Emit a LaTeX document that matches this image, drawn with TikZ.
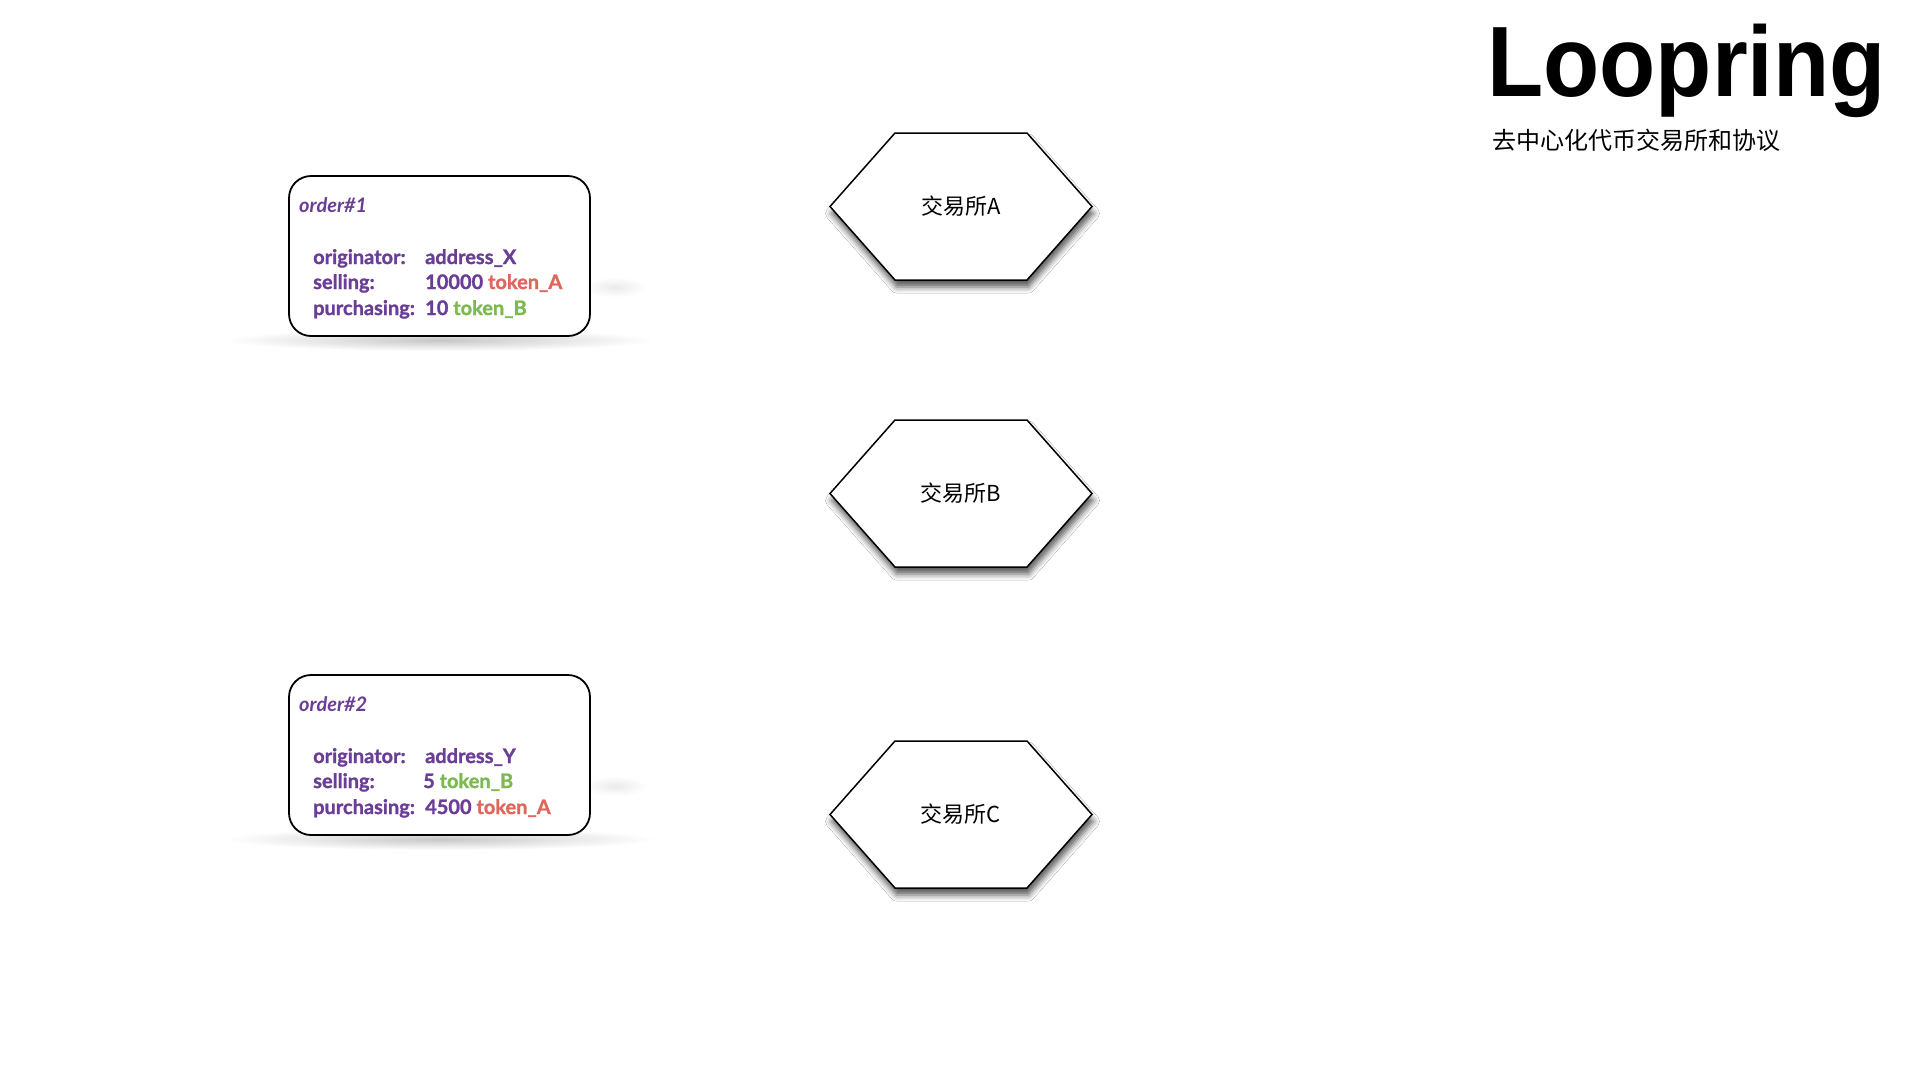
\documentclass[tikz,border=0pt]{standalone}
\usepackage{fontspec}
\usetikzlibrary{shadows.blur}
\newfontfamily\cjkfont{Noto Sans CJK SC}
\newfontfamily\titlefont[FakeStretch=0.92]{Liberation Sans}
\newfontfamily\ordfont[BoldFeatures={FakeBold=1.2}]{Lato}
\definecolor{ordpurple}{RGB}{106,61,150}
\definecolor{tokred}{RGB}{224,102,92}
\definecolor{tokgreen}{RGB}{124,186,80}
\tikzset{
  orderbox/.style={draw, line width=1.8pt, rounded corners=22pt, fill=white, inner sep=0pt, minimum width=301pt, minimum height=160pt},
  hexshape/.style={draw, line width=1.5pt, fill=white, line join=miter,
    blur shadow={shadow xshift=1.5pt, shadow yshift=-7pt, shadow blur radius=6pt, shadow opacity=65}},
  hexlabel/.style={inner sep=0pt, font=\cjkfont\fontsize{22}{24}\selectfont},
  ordtext/.style={anchor=base west, inner sep=0pt, text=ordpurple, font=\ordfont\bfseries\fontsize{20}{24}\selectfont},
  ordtitle/.style={ordtext, font=\ordfont\bfseries\itshape\fontsize{20}{24}\selectfont},
}
\begin{document}
\begin{tikzpicture}[x=1pt,y=-1pt]
\fill[white] (0,0) rectangle (1920,1080);
\useasboundingbox (0,0) rectangle (1920,1080);
% soft shadows under order boxes
\foreach \dy in {0,499} {
  \shade[inner color=black!22, outer color=white] (440,{340+\dy}) ellipse [x radius=215, y radius=11];
  \shade[inner color=black!8, outer color=white] (615,{287+\dy}) ellipse [x radius=32, y radius=10];
}
% order boxes
\node[orderbox] (order1) at (439.5,256) {};
\node[orderbox] (order2) at (439.5,755) {};
% order 1 text
\node[ordtitle] (o1title) at (299,212) {order\#1};
\node[ordtext] (o1k1) at (313,264) {originator:};
\node[ordtext] (o1v1) at (425,264) {address\_X};
\node[ordtext] (o1k2) at (313,289) {selling:};
\node[ordtext] (o1v2) at (425,289) {10000 \textcolor{tokred}{token\_A}};
\node[ordtext] (o1k3) at (313,315) {purchasing:};
\node[ordtext] (o1v3) at (425,315) {10 \textcolor{tokgreen}{token\_B}};
% order 2 text
\node[ordtitle] (o2title) at (299,711) {order\#2};
\node[ordtext] (o2k1) at (313,763) {originator:};
\node[ordtext] (o2v1) at (425,763) {address\_Y};
\node[ordtext] (o2k2) at (313,788) {selling:};
\node[ordtext] (o2v2) at (423,788) {5 \textcolor{tokgreen}{token\_B}};
\node[ordtext] (o2k3) at (313,814) {purchasing:};
\node[ordtext] (o2v3) at (425,814) {4500 \textcolor{tokred}{token\_A}};
% exchanges
\foreach \n/\cy/\lab in {A/206.5/交易所A, B/493.5/交易所B, C/814.5/交易所C} {
  \draw[hexshape] (830,\cy) -- ++(65,-73.5) -- ++(132,0) -- ++(65,73.5) -- ++(-65,73.5) -- ++(-132,0) -- cycle;
  \node[hexlabel] (hex\n) at (961,\cy) {\lab};
}
% title
\node[anchor=base west, inner sep=0pt, font=\titlefont\bfseries\fontsize{100}{100}\selectfont] (title) at (1487,96) {Loopring};
\node[anchor=base west, inner sep=0pt, font=\cjkfont\fontsize{24}{24}\selectfont] (subtitle) at (1492,149) {去中心化代币交易所和协议};
\end{tikzpicture}
\end{document}
